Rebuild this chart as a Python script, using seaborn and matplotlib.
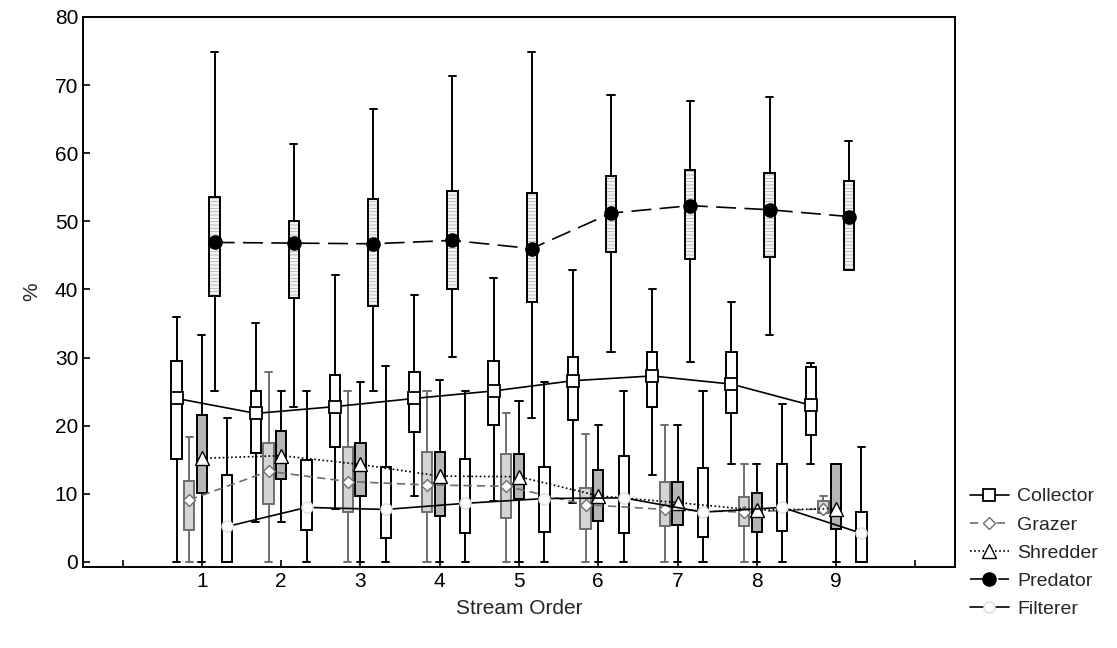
import numpy as np
import pandas as pd
import matplotlib
matplotlib.use("Agg")
import matplotlib.pyplot as plt
import seaborn as sns

orders = [1, 2, 3, 4, 5, 6, 7, 8, 9]
series = ["Collector", "Grazer", "Shredder", "Predator", "Filterer"]

collector_lo = [0, 5.8, 7.7, 9.7, 8.9, 8.6, 12.7, 14.4, 14.4]
collector_q1 = [15.1, 16.0, 16.8, 19.1, 20.1, 20.9, 22.7, 21.8, 18.6]
collector_q3 = [29.5, 25.1, 27.4, 27.9, 29.5, 30.1, 30.8, 30.8, 28.6]
collector_hi = [36.0, 35.0, 42.1, 39.2, 41.7, 42.9, 40.0, 38.1, 29.2]
collector_mean = [24.0, 21.8, 22.8, 24.0, 25.1, 26.6, 27.3, 26.1, 23.0]

grazer_lo = [0, 0, 0, 0, 0, 0, 0, 0, 7.2]
grazer_q1 = [4.7, 8.5, 7.3, 7.3, 6.4, 4.9, 5.2, 5.2, 7.2]
grazer_q3 = [11.9, 17.5, 16.8, 16.1, 15.9, 10.9, 11.7, 9.5, 8.9]
grazer_hi = [18.3, 27.9, 25.1, 25.1, 21.8, 18.8, 20.1, 14.4, 9.7]
grazer_mean = [9.1, 13.3, 11.8, 11.3, 11.1, 8.4, 7.7, 7.3, 7.8]

shredder_lo = [0, 5.8, 0, 0, 0, 0, 0, 0, 0]
shredder_q1 = [10.1, 12.1, 9.7, 6.7, 9.2, 6.0, 5.4, 4.4, 4.9]
shredder_med = [14.6, 14.8, 13.5, 11.9, 11.9, 9.0, 8.4, 6.8, 7.5]
shredder_q3 = [21.5, 19.2, 17.5, 16.1, 15.9, 13.5, 11.7, 10.1, 14.4]
shredder_hi = [33.3, 25.1, 26.4, 26.7, 23.6, 20.1, 20.1, 14.4, 14.4]
shredder_mean = [15.2, 15.6, 14.3, 12.6, 12.5, 9.7, 8.7, 7.6, 7.8]

predator_lo = [25.1, 22.8, 25.1, 30.1, 21.1, 30.8, 29.3, 33.3, 42.8]
predator_q1 = [39.1, 38.7, 37.5, 40.0, 38.2, 45.5, 44.4, 44.7, 42.8]
predator_q3 = [53.5, 50.0, 53.3, 54.5, 54.1, 56.6, 57.5, 57.1, 55.9]
predator_hi = [74.8, 61.4, 66.5, 71.3, 74.8, 68.6, 67.7, 68.3, 61.8]
predator_mean = [46.9, 46.8, 46.7, 47.2, 46.0, 51.2, 52.3, 51.7, 50.7]

filterer_lo = [0, 0, 0, 0, 0, 0, 0, 0, 0]
filterer_q1 = [0, 4.7, 3.5, 4.2, 4.4, 4.2, 3.7, 4.5, 0]
filterer_q3 = [12.7, 15.0, 13.9, 15.1, 14.0, 15.5, 13.8, 14.4, 7.3]
filterer_hi = [21.1, 25.1, 28.7, 25.1, 26.4, 25.1, 25.1, 23.2, 16.8]
filterer_mean = [5.2, 8.0, 7.7, 8.6, 9.3, 9.4, 7.3, 8.0, 4.2]

xtick_labels = ["", "1", "2", "3", "4", "5", "6", "7", "8", "9", ""]

sns.set_theme(style="ticks")
plt.rcParams["font.family"] = ["Liberation Sans", "DejaVu Sans"]
plt.rcParams["hatch.linewidth"] = 0.5

fig = plt.figure(figsize=(11.17, 6.48), dpi=100)
ax = fig.add_axes([0.0743, 0.125, 0.7807, 0.8488])

offsets = {"Collector": -0.32, "Grazer": -0.16, "Shredder": 0.0,
           "Predator": 0.16, "Filterer": 0.32}
data = {
    "Collector": (collector_lo, collector_q1, collector_mean, collector_q3, collector_hi, collector_mean),
    "Grazer": (grazer_lo, grazer_q1, grazer_mean, grazer_q3, grazer_hi, grazer_mean),
    "Shredder": (shredder_lo, shredder_q1, shredder_med, shredder_q3, shredder_hi, shredder_mean),
    "Predator": (predator_lo, predator_q1, predator_mean, predator_q3, predator_hi, predator_mean),
    "Filterer": (filterer_lo, filterer_q1, filterer_mean, filterer_q3, filterer_hi, filterer_mean),
}
box_style = {
    "Collector": dict(face="white", edge="black", whisk="black"),
    "Grazer": dict(face="#d4d4d4", edge="#6e6e6e", whisk="#6e6e6e"),
    "Shredder": dict(face="#b6b6b6", edge="black", whisk="black"),
    "Predator": dict(face="none", edge="black", whisk="black"),
    "Filterer": dict(face="white", edge="black", whisk="black"),
}

bw = 0.13
cw = 0.09
lw = 1.4
for name in series:
    lo, q1, med, q3, hi, mean = data[name]
    stats = [dict(whislo=lo[i], q1=q1[i], med=med[i], q3=q3[i], whishi=hi[i], fliers=[])
             for i in range(len(orders))]
    pos = [o + offsets[name] for o in orders]
    st = box_style[name]
    if name == "Predator":
        ax.bxp(stats, positions=pos, widths=bw, patch_artist=True, showfliers=False,
               showcaps=False, manage_ticks=False,
               boxprops=dict(facecolor="#f4f4f4", edgecolor="#a8a8a8", hatch="-----", linewidth=0),
               whiskerprops=dict(linewidth=0), medianprops=dict(linewidth=0), zorder=2)
    ax.bxp(stats, positions=pos, widths=bw, patch_artist=True, showfliers=False,
           manage_ticks=False, capwidths=cw,
           boxprops=dict(facecolor=st["face"], edgecolor=st["edge"], linewidth=lw),
           whiskerprops=dict(color=st["whisk"], linewidth=lw),
           capprops=dict(color=st["whisk"], linewidth=lw),
           medianprops=dict(color=st["edge"], linewidth=lw), zorder=3)

line_style = {
    "Collector": dict(color="black", ls="-", marker="s", ms=8.5, mfc="white", mec="black", mew=1.3),
    "Grazer": dict(color="#6e6e6e", ls=(0, (5, 3)), marker="D", ms=6.5, mfc="white", mec="#6e6e6e", mew=1.0),
    "Shredder": dict(color="black", ls=(0, (1, 1.5)), marker="^", ms=10, mfc="white", mec="black", mew=1.0),
    "Predator": dict(color="black", ls=(0, (12, 5)), marker="o", ms=9.5, mfc="black", mec="black", mew=1.0),
    "Filterer": dict(color="black", ls="-", marker="o", ms=8, mfc="white", mec="#dddddd", mew=1.0),
}
for name in series:
    mean = data[name][5]
    df = pd.DataFrame({"x": [o + offsets[name] for o in orders], "y": mean})
    s = line_style[name]
    sns.lineplot(data=df, x="x", y="y", ax=ax, color=s["color"], linestyle=s["ls"],
                 linewidth=1.2, marker=s["marker"], markersize=s["ms"],
                 markerfacecolor=s["mfc"], markeredgecolor=s["mec"], markeredgewidth=s["mew"],
                 label=name, zorder=5, sort=False)

ax.set_xlim(-0.5, 10.5)
ax.set_ylim(-0.75, 80)
ax.set_xticks(range(0, 11))
ax.set_xticklabels(xtick_labels)
ax.set_yticks(range(0, 81, 10))
ax.tick_params(direction="in", labelsize=15, length=5, width=1.2, colors="black")
for sp in ax.spines.values():
    sp.set_visible(True)
    sp.set_color("black")
    sp.set_linewidth(1.4)
ax.set_xlabel("Stream Order", fontsize=15, labelpad=6)
ax.set_ylabel("%", fontsize=15, labelpad=10)

ax.legend(loc="upper left", bbox_to_anchor=(1.017, 0.144), frameon=False, fontsize=14,
          handlelength=2.0, handletextpad=0.45, labelspacing=0.54, borderpad=0, borderaxespad=0)

fig.savefig("out.png", dpi=100)
